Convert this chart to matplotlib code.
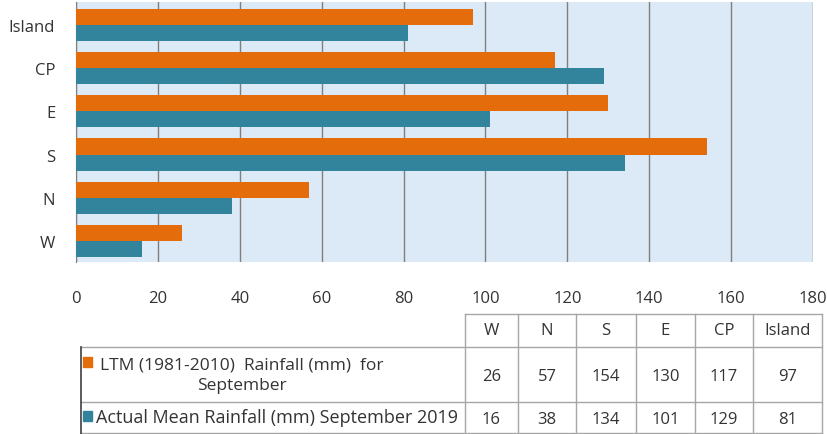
import numpy as np
import matplotlib
matplotlib.use("Agg")
import matplotlib.pyplot as plt
from matplotlib.patches import Rectangle

plt.rcParams["font.family"] = ["Open Sans", "DejaVu Sans"]

# data
regions = ["W", "N", "S", "E", "CP", "Island"]
ltm = [26, 57, 154, 130, 117, 97]
actual = [16, 38, 134, 101, 129, 81]
ltm_label = "LTM (1981-2010)  Rainfall (mm)  for\nSeptember"
actual_label = "Actual Mean Rainfall (mm) September 2019"
xticks = [0, 20, 40, 60, 80, 100, 120, 140, 160, 180]

ORANGE = "#e46c0a"
TEAL = "#31849b"
BG = "#dce9f6"
TXT = "#333333"
GRID = "#7f7f7f"

W, H = 827, 435
fig = plt.figure(figsize=(W / 100, H / 100), dpi=100)

# chart axes (pixel box: x 76..813, y 3..263)
ax = fig.add_axes([76 / W, 1 - 263 / H, (813 - 76) / W, (263 - 3) / H])
ax.set_facecolor(BG)
y = np.arange(len(regions))
bh = 0.37
ax.barh(y + bh / 2, ltm, height=bh, color=ORANGE, zorder=3)
ax.barh(y - bh / 2, actual, height=bh, color=TEAL, zorder=3)
ax.set_xlim(0, 180)
ax.set_ylim(-0.48, 5.52)
ax.set_xticks(xticks)
ax.set_yticks(y)
ax.set_yticklabels(regions)
ax.grid(axis="x", color=GRID, lw=1, zorder=1)
ax.tick_params(axis="both", length=0, labelsize=12, colors=TXT)
ax.tick_params(axis="x", pad=20)
ax.tick_params(axis="y", pad=15)
for s in ["top", "right", "bottom"]:
    ax.spines[s].set_visible(False)
ax.spines["left"].set_color(GRID)

# data table under the chart, drawn in pixel coordinates
tab = fig.add_axes([0, 0, 1, 1])
tab.set_xlim(0, W)
tab.set_ylim(H, 0)
tab.axis("off")
col_x = [465, 518, 576, 636, 695, 753, 822]
row_y = [315, 348, 403, 434]
lc = "#a6a6a6"
tab.plot([col_x[0], col_x[-1]], [row_y[0], row_y[0]], color=lc, lw=1)
for yy in row_y[1:]:
    tab.plot([81, col_x[-1]], [yy, yy], color=lc, lw=1)
for xx in col_x:
    tab.plot([xx, xx], [row_y[0], row_y[-1]], color=lc, lw=1)
tab.plot([81, 81], [row_y[1], H], color="#404040", lw=1.2)

fs = 12
for i, r in enumerate(regions):
    cx = (col_x[i] + col_x[i + 1]) / 2
    tab.text(cx, (row_y[0] + row_y[1]) / 2, r, ha="center", va="center", fontsize=fs, color=TXT)
    tab.text(cx, (row_y[1] + row_y[2]) / 2 + 2, str(ltm[i]), ha="center", va="center", fontsize=fs, color=TXT)
    tab.text(cx, (row_y[2] + row_y[3]) / 2 + 2, str(actual[i]), ha="center", va="center", fontsize=fs, color=TXT)

tab.add_patch(Rectangle((83, 358), 9, 10, color=ORANGE))
tab.add_patch(Rectangle((83, 412), 9, 10, color=TEAL))
tab.text(242, 376, ltm_label, ha="center", va="center", fontsize=12.5, color=TXT, linespacing=1.35)
tab.text(96, 418, actual_label, ha="left", va="center", fontsize=13, color=TXT)

fig.savefig("out.png", dpi=100)
